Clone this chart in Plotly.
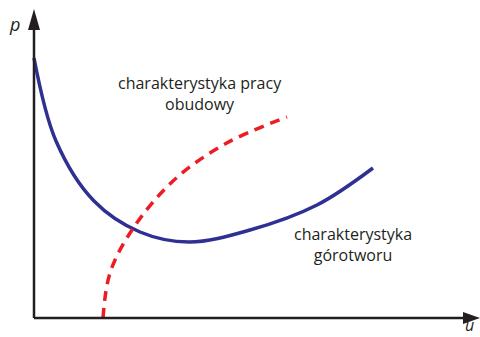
import plotly.graph_objects as go

# Ground reaction curve (p vs u) and support characteristic, in plot units
ground_u = [0, 22, 60, 106, 155, 216, 283, 339]
ground_p = [260, 177, 117, 86, 76, 88, 113, 150]

support_u = [69, 76, 98, 139, 191, 253]
support_p = [0, 45, 88, 137, 174, 201]

labels = ["charakterystyka pracy<br>obudowy", "charakterystyka<br>górotworu"]

W, H = 480, 337
ML, MB = 34, 19
XR = W - ML
YR = H - MB

fig = go.Figure()
fig.add_trace(go.Scatter(x=ground_u, y=ground_p, mode="lines",
                         line=dict(color="#2e3192", width=3.5, shape="spline", smoothing=1.0),
                         hoverinfo="skip"))
fig.add_trace(go.Scatter(x=support_u, y=support_p, mode="lines",
                         line=dict(color="#ed1c24", width=3.5, shape="spline", smoothing=1.0,
                                   dash="10px,7px"),
                         hoverinfo="skip"))

axis_col = "#231f20"
shapes = [
    dict(type="line", xref="x", yref="y", x0=0, y0=0, x1=XR - 12, y1=0,
         line=dict(color=axis_col, width=2.5)),
    dict(type="line", xref="x", yref="y", x0=0, y0=0, x1=0, y1=YR - 25,
         line=dict(color=axis_col, width=2.5)),
    dict(type="path", xref="x", yref="y",
         path=f"M {XR} 0 L {XR-17} 6 L {XR-17} -6 Z",
         fillcolor=axis_col, line=dict(width=0)),
    dict(type="path", xref="x", yref="y",
         path=f"M 0 {YR-9} L -6 {YR-30} L 6 {YR-30} Z",
         fillcolor=axis_col, line=dict(width=0)),
]

txt_font = dict(family="Open Sans", size=16, color="#231f20")
annotations = [
    dict(x=166, y=225, xref="x", yref="y", text=labels[0], showarrow=False,
         font=txt_font, align="center"),
    dict(x=319, y=74, xref="x", yref="y", text=labels[1], showarrow=False,
         font=txt_font, align="center"),
    dict(x=-20, y=YR - 24, xref="x", yref="y", text="<i>p</i>", showarrow=False,
         font=dict(family="Open Sans", size=18, color="#231f20")),
    dict(x=XR - 11, y=-7, xref="x", yref="y", text="<i>u</i>", showarrow=False,
         font=dict(family="Open Sans", size=16, color="#231f20")),
]

# The plotting area fills the whole figure; the axes sit at u=0, p=0
fig.update_layout(
    width=W, height=H,
    margin=dict(l=0, r=0, t=0, b=0),
    paper_bgcolor="white", plot_bgcolor="white",
    showlegend=False,
    xaxis=dict(range=[-ML, XR], visible=False, fixedrange=True),
    yaxis=dict(range=[-MB, YR], visible=False, fixedrange=True),
    shapes=shapes, annotations=annotations,
)

fig.write_html("out.html", config={"displayModeBar": False})
